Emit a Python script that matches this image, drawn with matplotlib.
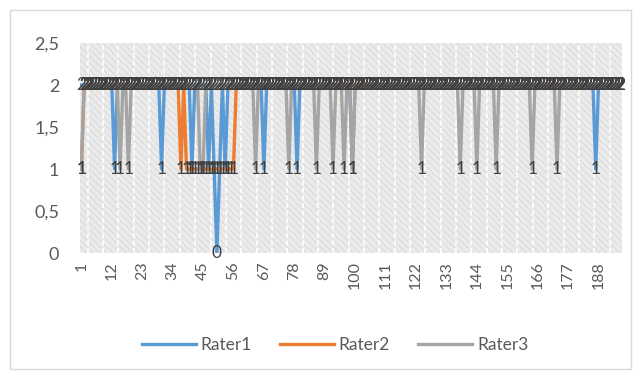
import numpy as np
import matplotlib.pyplot as plt
from matplotlib.patches import Rectangle

plt.rcParams['font.family'] = ['Lato', 'DejaVu Sans']
plt.rcParams['hatch.linewidth'] = 0.7

# 196 rated items; every value not listed below is a 2
n_items = 196
items = np.arange(1, n_items + 1)
x_tick_values = list(range(1, n_items + 1, 11))
y_tick_values = [0, 0.5, 1, 1.5, 2, 2.5]

rater1_ones = [13, 30, 41, 47, 49, 51, 53, 67, 79, 99, 187]
rater1_zeros = [50]
rater2_ones = [1, 37] + list(range(39, 57))
rater3_ones = [1, 15, 18, 44, 45, 64, 76, 86, 92, 96, 99, 124, 138, 144, 151, 164, 173]

series_names = ["Rater1", "Rater2", "Rater3"]
series_colors = ["#5B9BD5", "#ED7D31", "#A5A5A5"]


def build_scores(ones, zeros=()):
    vals = np.full(n_items, 2)
    vals[np.array(ones, dtype=int) - 1] = 1
    if len(zeros):
        vals[np.array(zeros, dtype=int) - 1] = 0
    return vals


scores = [
    build_scores(rater1_ones, rater1_zeros),
    build_scores(rater2_ones),
    build_scores(rater3_ones),
]

W, H = 638, 376
fig = plt.figure(figsize=(W / 100, H / 100), dpi=100)
ax = fig.add_axes([80 / W, 1 - 253 / H, 542 / W, 210 / H])
ax.set_facecolor("none")

# Excel-like patterned plot area
ax.add_patch(Rectangle((0, 0), 1, 1, transform=ax.transAxes, facecolor="#ebebeb",
                       edgecolor="#dadada", hatch="\\\\\\\\\\", lw=0, zorder=0))
for xv in np.arange(3.3, n_items + 0.5, 5.55):
    ax.axvline(xv, color="white", lw=1.2, ls=(0, (3, 1.5)), zorder=1)

handles = []
for name, color, vals in zip(series_names, series_colors, scores):
    (ln,) = ax.plot(items, vals, color=color, lw=2.4, label=name, zorder=2)
    handles.append(ln)

for vals in scores:
    for x, v in zip(items, vals):
        ax.text(x, v, str(v), ha="center", va="center", fontsize=12.5,
                color="#404040", zorder=5)

ax.set_xlim(0.5, n_items + 0.5)
ax.set_ylim(0, 2.5)
ax.set_xticks(x_tick_values)
ax.set_xticklabels([str(v) for v in x_tick_values], rotation=90, fontsize=11.5, color="#595959")
ax.set_yticks(y_tick_values)
ax.set_yticklabels([f"{v:g}".replace(".", ",") for v in y_tick_values], fontsize=13, color="#595959")
ax.tick_params(axis="both", length=0)
ax.tick_params(axis="y", pad=15)
ax.tick_params(axis="x", pad=6)
for s in ax.spines.values():
    s.set_visible(False)

leg = fig.legend(handles=handles, loc="center", bbox_to_anchor=(335 / W, 1 - 345 / H), ncol=3,
                 frameon=False, fontsize=12.5, handlelength=3.1, handletextpad=0.3,
                 columnspacing=1.6)
for t in leg.get_texts():
    t.set_color("#595959")

fig.patches.append(Rectangle((10 / W, 7 / H), 621 / W, 359 / H, transform=fig.transFigure,
                             fill=False, edgecolor="#d9d9d9", lw=1))

fig.savefig("out.png", dpi=100)
